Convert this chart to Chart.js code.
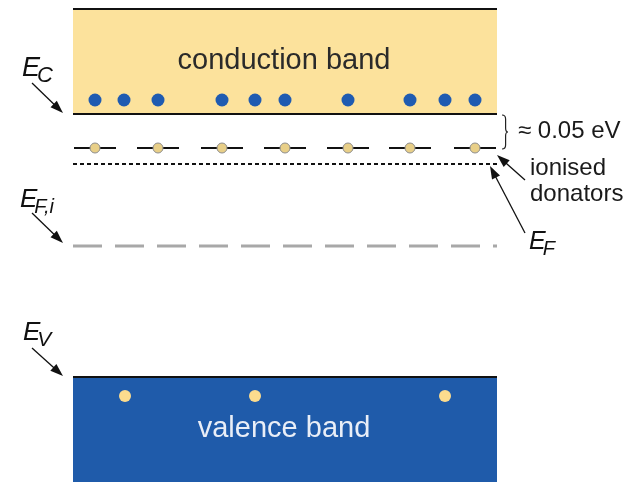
<!DOCTYPE html>
<html>
<head>
<meta charset="utf-8">
<script src="https://cdn.jsdelivr.net/npm/chart.js@4.4.1/dist/chart.umd.min.js"></script>
<style>
body { margin: 0; background: #fff; }
#wrap { width: 633px; height: 482px; }
</style>
</head>
<body>
<div id="wrap"><canvas id="bands"></canvas></div>
<script>
// energy scale in arbitrary units, 0 = bottom of the picture
const levelNames = ['cbTop', 'Ec', 'Ed', 'Ef', 'Efi', 'Ev'];
const levelValues = [473, 368, 334, 318, 236, 105];
const bandRange = [73, 497];
const electronX = [95, 124, 158, 222, 255, 285, 348, 410, 445, 475];
const electronE = 382;
const donorX = [95, 158, 222, 285, 348, 410, 475];
const holeX = [125, 255, 445];
const holeE = 86;

const lvl = function (name) {
    return levelValues[levelNames.indexOf(name)];
}

const levelLine = function (y) {
    return [{x: bandRange[0], y: y}, {x: bandRange[1], y: y}];
}

// short bar under every donor, broken with null points
const donorDash = donorX.flatMap(x => [
    {x: x - 21, y: lvl('Ed')},
    {x: x + 21, y: lvl('Ed')},
    {x: x + 21, y: null}
]);

const FONT = '"Liberation Sans", Arial, Helvetica, sans-serif';

function DrawArrow(ctx, x1, y1, x2, y2) {
    const a = Math.atan2(y2 - y1, x2 - x1);
    const len = 13, half = 4.5;
    ctx.save();
    ctx.strokeStyle = '#111';
    ctx.fillStyle = '#111';
    ctx.lineWidth = 1.3;
    ctx.beginPath();
    ctx.moveTo(x1, y1);
    ctx.lineTo(x2 - Math.cos(a) * len * 0.8, y2 - Math.sin(a) * len * 0.8);
    ctx.stroke();
    ctx.beginPath();
    ctx.moveTo(x2, y2);
    ctx.lineTo(x2 - Math.cos(a) * len - Math.sin(a) * half, y2 - Math.sin(a) * len + Math.cos(a) * half);
    ctx.lineTo(x2 - Math.cos(a) * len + Math.sin(a) * half, y2 - Math.sin(a) * len - Math.cos(a) * half);
    ctx.closePath();
    ctx.fill();
    ctx.restore();
}

function DrawSymbol(ctx, main, sub, x, y, size, subSize) {
    ctx.save();
    ctx.fillStyle = '#111';
    ctx.textBaseline = 'alphabetic';
    ctx.textAlign = 'left';
    ctx.font = 'italic ' + size + 'px ' + FONT;
    ctx.fillText(main, x, y);
    const w = ctx.measureText(main).width;
    ctx.font = 'italic ' + subSize + 'px ' + FONT;
    ctx.fillText(sub, x + w - 3, y + 6);
    ctx.restore();
}

function DrawBrace(ctx, x, top, bottom, depth) {
    const mid = (top + bottom) / 2;
    ctx.save();
    ctx.strokeStyle = '#222';
    ctx.lineWidth = 1.2;
    ctx.beginPath();
    ctx.moveTo(x, top);
    ctx.quadraticCurveTo(x + depth * 0.6, top, x + depth * 0.6, top + 4);
    ctx.lineTo(x + depth * 0.6, mid - 4);
    ctx.quadraticCurveTo(x + depth * 0.6, mid, x + depth, mid);
    ctx.quadraticCurveTo(x + depth * 0.6, mid, x + depth * 0.6, mid + 4);
    ctx.lineTo(x + depth * 0.6, bottom - 4);
    ctx.quadraticCurveTo(x + depth * 0.6, bottom, x, bottom);
    ctx.stroke();
    ctx.restore();
}

const labelsPlugin = {
    id: 'bandLabels',
    afterDatasetsDraw(chart) {
        const ctx = chart.ctx;
        const px = v => chart.scales.x.getPixelForValue(v);
        const py = v => chart.scales.y.getPixelForValue(v);
        const left = px(bandRange[0]), right = px(bandRange[1]);
        const mid = (left + right) / 2;

        ctx.save();
        ctx.textAlign = 'center';
        ctx.textBaseline = 'alphabetic';
        ctx.font = '29px ' + FONT;
        ctx.fillStyle = '#2a2a2a';
        ctx.fillText('conduction band', mid - 1, py(lvl('Ec')) - 45);
        ctx.fillStyle = '#e9eef7';
        ctx.fillText('valence band', mid - 1, py(lvl('Ev')) + 60);

        ctx.textAlign = 'left';
        ctx.fillStyle = '#1a1a1a';
        ctx.font = '24px ' + FONT;
        ctx.fillText('\u2248 0.05 eV', 518, (py(lvl('Ec')) + py(lvl('Ed'))) / 2 + 7);
        ctx.fillText('ionised', 530, py(lvl('Ed')) + 27);
        ctx.fillText('donators', 530, py(lvl('Ed')) + 53);
        ctx.restore();

        DrawBrace(ctx, right + 5, py(lvl('Ec')) + 1, py(lvl('Ed')) + 1, 6);

        DrawSymbol(ctx, 'E', 'C', 22, py(lvl('Ec')) - 38, 27, 22);
        DrawArrow(ctx, 32, py(lvl('Ec')) - 31, left - 10, py(lvl('Ec')) - 1);

        DrawSymbol(ctx, 'E', 'F,i', 20, py(lvl('Efi')) - 39, 26, 20);
        DrawArrow(ctx, 32, py(lvl('Efi')) - 33, left - 10, py(lvl('Efi')) - 3);

        DrawSymbol(ctx, 'E', 'V', 23, py(lvl('Ev')) - 37, 26, 21);
        DrawArrow(ctx, 32, py(lvl('Ev')) - 29, left - 10, py(lvl('Ev')) - 1);

        DrawArrow(ctx, 525, py(lvl('Ed')) + 32, right, py(lvl('Ed')) + 7);
        DrawArrow(ctx, 525, py(lvl('Ef')) + 69, right - 7, py(lvl('Ef')) + 2);
        DrawSymbol(ctx, 'E', 'F', 529, py(lvl('Ef')) + 85, 25, 20);
    }
};

const lineStyle = {showLine: true, pointRadius: 0, fill: false};

new Chart(document.getElementById('bands'), {
    type: 'scatter',
    data: {
        datasets: [
            {
                label: 'conduction band',
                data: levelLine(lvl('cbTop')),
                ...lineStyle,
                fill: {value: lvl('Ec')},
                backgroundColor: '#fce29c',
                borderColor: '#111',
                borderWidth: 2,
                order: 10
            },
            {
                label: 'E_C',
                data: levelLine(lvl('Ec')),
                ...lineStyle,
                borderColor: '#111',
                borderWidth: 2,
                order: 5
            },
            {
                label: 'donor level',
                data: donorDash,
                ...lineStyle,
                spanGaps: false,
                borderColor: '#111',
                borderWidth: 2,
                order: 5
            },
            {
                label: 'E_F',
                data: levelLine(lvl('Ef')),
                ...lineStyle,
                borderColor: '#111',
                borderWidth: 2,
                borderDash: [4, 3],
                order: 5
            },
            {
                label: 'E_F,i',
                data: levelLine(lvl('Efi')),
                ...lineStyle,
                borderColor: '#a8a8a8',
                borderWidth: 3,
                borderDash: [29, 13],
                order: 5
            },
            {
                label: 'valence band',
                data: levelLine(lvl('Ev')),
                ...lineStyle,
                fill: {value: 0},
                backgroundColor: '#1f5baa',
                borderColor: '#111',
                borderWidth: 2,
                order: 10
            },
            {
                label: 'electrons',
                data: electronX.map(x => ({x: x, y: electronE})),
                pointRadius: 6.5,
                backgroundColor: '#1f5bb1',
                borderWidth: 0,
                order: 1
            },
            {
                label: 'donors',
                data: donorX.map(x => ({x: x, y: lvl('Ed')})),
                pointRadius: 5,
                backgroundColor: '#e8cf88',
                borderColor: '#8c8c8c',
                borderWidth: 1,
                order: 1
            },
            {
                label: 'holes',
                data: holeX.map(x => ({x: x, y: holeE})),
                pointRadius: 6,
                backgroundColor: '#fcdc8e',
                borderWidth: 0,
                order: 1
            }
        ]
    },
    options: {
        responsive: true,
        maintainAspectRatio: false,
        devicePixelRatio: 1,
        animation: false,
        events: [],
        layout: {padding: 0, autoPadding: false},
        scales: {
            x: {type: 'linear', min: 0, max: 633, display: false},
            y: {type: 'linear', min: 0, max: 482, display: false}
        },
        plugins: {
            legend: {display: false},
            tooltip: {enabled: false}
        }
    },
    plugins: [labelsPlugin]
});
</script>
</body>
</html>
